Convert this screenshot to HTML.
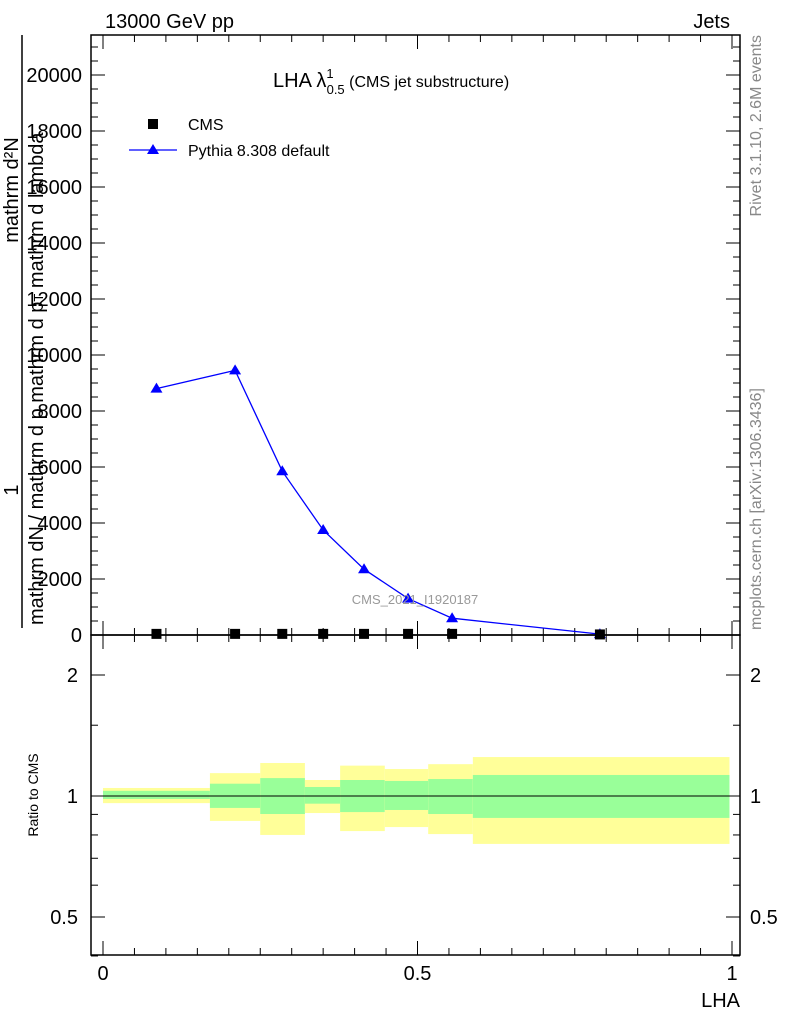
<!DOCTYPE html>
<html><head><meta charset="utf-8"><style>
body{margin:0;background:#fff}
svg{font-family:"Liberation Sans",sans-serif}
</style></head><body>
<svg id="c" width="786" height="1024" viewBox="0 0 786 1024" xmlns="http://www.w3.org/2000/svg">
<g id="bands"></g>
<g id="axes"></g>
<g id="series"></g>
<text x="105" y="28" font-size="20">13000 GeV pp</text>
<text x="730" y="28" font-size="20" text-anchor="end">Jets</text>
<text x="273" y="87" font-size="20">LHA λ<tspan font-size="13" dy="-9">1</tspan><tspan font-size="13" dy="16" dx="-7">0.5</tspan><tspan font-size="16" dy="-7"> (CMS jet substructure)</tspan></text>
<rect x="148" y="119" width="10" height="10" fill="#000"/>
<text x="188" y="130" font-size="16">CMS</text>
<line x1="129" y1="150" x2="177" y2="150" stroke="#00f" stroke-width="1.3"/>
<polygon points="153,144 147,154 159,154" fill="#00f"/>
<text x="188" y="156" font-size="16">Pythia 8.308 default</text>
<text x="415" y="604" font-size="13" fill="#999" text-anchor="middle">CMS_2021_I1920187</text>
<text transform="translate(761,35) rotate(-90)" font-size="16" fill="#888" text-anchor="end">Rivet 3.1.10,  2.6M events</text>
<text transform="translate(761,630) rotate(-90)" font-size="16" fill="#888">mcplots.cern.ch [arXiv:1306.3436]</text>
<g>
<line x1="22" y1="35" x2="22" y2="628" stroke="#000" stroke-width="1.5"/>
<text transform="translate(18,190) rotate(-90)" font-size="20" text-anchor="middle">mathrm d²N</text>
<text transform="translate(18,490) rotate(-90)" font-size="20" text-anchor="middle">1</text>
<text transform="translate(43,625) rotate(-90)" font-size="20">mathrm dN / mathrm d p mathrm d p<tspan font-size="13">T</tspan> mathrm d lambda</text>
</g>
<text transform="translate(38,795) rotate(-90)" font-size="14" text-anchor="middle">Ratio to CMS</text>
<text x="740" y="1007" font-size="20" text-anchor="end">LHA</text>
</svg>
<script>
const xEdges=[0,0.17,0.25,0.321,0.377,0.448,0.517,0.588,0.996];
const yellowHi=[1.047,1.14,1.208,1.096,1.19,1.167,1.2,1.25];
const yellowLo=[0.96,0.867,0.8,0.907,0.818,0.837,0.804,0.76];
const greenHi=[1.03,1.073,1.108,1.053,1.096,1.09,1.102,1.128];
const greenLo=[0.983,0.934,0.902,0.957,0.912,0.923,0.902,0.882];
const pyX=[0.085,0.21,0.285,0.35,0.415,0.485,0.555,0.79];
const pyY=[8800,9450,5850,3750,2350,1300,600,30];
const cmsX=[0.085,0.21,0.285,0.35,0.415,0.485,0.555,0.79];
const cmsY=[40,40,40,40,40,40,40,20];
const mainTicks=[0,2000,4000,6000,8000,10000,12000,14000,16000,18000,20000];
const ratioTicks=[0.5,1,2];
const xTicks=[0,0.5,1];
const xTickLabels=["0","0.5","1"];

const NS="http://www.w3.org/2000/svg";
const L=91,R=740,T=35,MB=635,RB=955;
const xs=v=>103+629*v;
const ym=v=>635-v*56/2000;
const yr=r=>796-121*Math.log2(r);
function mk(tag,attrs,parent){const e=document.createElementNS(NS,tag);for(const k in attrs)e.setAttribute(k,attrs[k]);parent.appendChild(e);return e;}
const bands=document.getElementById('bands'),axes=document.getElementById('axes'),series=document.getElementById('series');
for(let i=0;i<yellowHi.length;i++){
 const x0=xs(xEdges[i]),x1=xs(xEdges[i+1]);
 const y=mk('rect',{x:x0,y:yr(yellowHi[i]),width:x1-x0,height:yr(yellowLo[i])-yr(yellowHi[i]),fill:'#ffff99'},bands);
 
 
 const g=mk('rect',{x:x0,y:yr(greenHi[i]),width:x1-x0,height:yr(greenLo[i])-yr(greenHi[i]),fill:'#99ff99'},bands);
 
 
}
mk('line',{x1:L,x2:R,y1:yr(1),y2:yr(1),stroke:'#000','stroke-width':1},bands);
mk('rect',{x:L,y:T,width:R-L,height:MB-T,fill:'none',stroke:'#000','stroke-width':1.5},axes);
mk('rect',{x:L,y:MB,width:R-L,height:RB-MB,fill:'none',stroke:'#000','stroke-width':1.5},axes);
for(let v=0;v<=21000;v+=500){const y=ym(v);if(y<T)break;const len=v%2000===0?14:7;
 mk('line',{x1:L,x2:L+len,y1:y,y2:y,stroke:'#000'},axes);mk('line',{x1:R,x2:R-len,y1:y,y2:y,stroke:'#000'},axes);}
mainTicks.forEach(v=>{const t=mk('text',{x:82,y:ym(v)+7,'font-size':20,'text-anchor':'end'},axes);t.textContent=v;
 
 });
[0.4,0.5,0.6,0.7,0.8,0.9,1,1.5,2].forEach(r=>{const y=yr(r);const len=(r===0.5||r===1||r===2)?14:7;
 mk('line',{x1:L,x2:L+len,y1:y,y2:y,stroke:'#000'},axes);mk('line',{x1:R,x2:R-len,y1:y,y2:y,stroke:'#000'},axes);});
ratioTicks.forEach(r=>{const a=mk('text',{x:78,y:yr(r)+7,'font-size':20,'text-anchor':'end'},axes);a.textContent=r;
 
 
 const b=mk('text',{x:750,y:yr(r)+7,'font-size':20},axes);b.textContent=r;
 
 });
for(let v=0;v<=1.0001;v+=0.05){const x=xs(v);const major=Math.abs(v*2-Math.round(v*2))<1e-6;const len=major?14:7;
 [[T,1],[MB,-1],[MB,1],[RB,-1]].forEach(([y0,d])=>mk('line',{x1:x,x2:x,y1:y0,y2:y0+d*len,stroke:'#000'},axes));}
xTicks.forEach((v,i)=>{const t=mk('text',{x:xs(v),y:980,'font-size':20,'text-anchor':'middle'},axes);t.textContent=xTickLabels[i];
 
 });
const pl=mk('polyline',{points:pyX.map((x,i)=>xs(x)+','+ym(pyY[i])).join(' '),fill:'none',stroke:'#00f','stroke-width':1.3},series);


pyX.forEach((x,i)=>{const cx=xs(x),cy=ym(pyY[i]);
 const p=mk('polygon',{points:`${cx},${cy-6} ${cx-6},${cy+4} ${cx+6},${cy+4}`,fill:'#00f'},series);
 
 });
cmsX.forEach((x,i)=>{const cx=xs(x),cy=ym(cmsY[i]);
 const r=mk('rect',{x:cx-5,y:cy-5,width:10,height:10,fill:'#000'},series);
 
 });
</script>
</body></html>
